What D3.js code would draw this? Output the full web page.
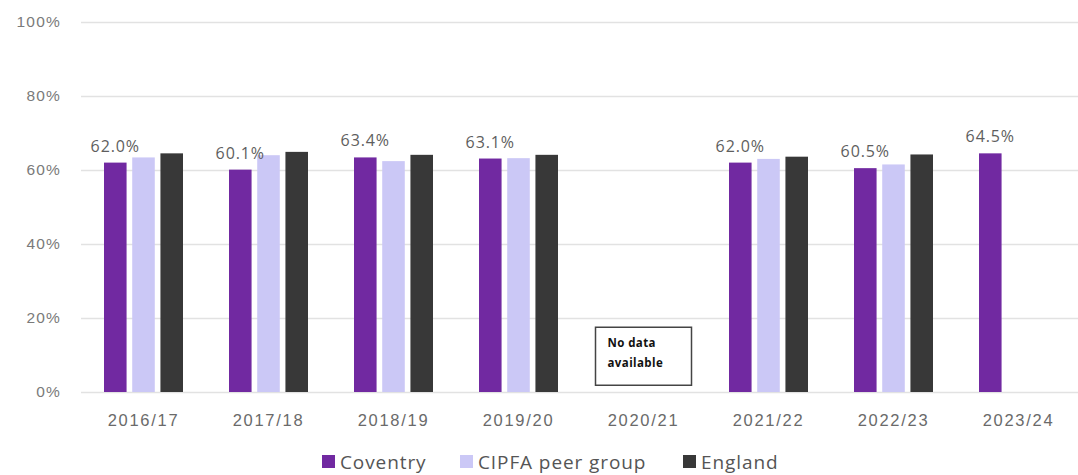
<!DOCTYPE html>
<html>
<head>
<meta charset="utf-8">
<script src="https://cdn.jsdelivr.net/npm/d3@7"></script>
<style>
  html, body { margin: 0; padding: 0; background: #ffffff; }
  svg { display: block; font-family: "Open Sans", "Noto Sans", sans-serif; }
</style>
</head>
<body>
<svg id="chart" width="1078" height="475"></svg>
<script>
// Years shown along the x axis
const years = ["2016/17", "2017/18", "2018/19", "2019/20", "2020/21", "2021/22", "2022/23", "2023/24"];

// Series names, in legend order
const seriesNames = ["Coventry", "CIPFA peer group", "England"];

// Percentages per series (null = no data for that year)
const coventry = [62.0, 60.1, 63.4, 63.1, null, 62.0, 60.5, 64.5];
const cipfaPeers = [63.4, 64.0, 62.4, 63.2, null, 63.0, 61.5, null];
const england = [64.5, 64.9, 64.1, 64.1, null, 63.6, 64.2, null];

// Y axis ticks
const yTicks = [0, 20, 40, 60, 80, 100];

// Year with no data at all
const noDataYear = "2020/21";
const noDataText = ["No data", "available"];

const seriesValues = [coventry, cipfaPeers, england];
const colors = ["#7129a1", "#cbc8f6", "#383838"];

const svg = d3.select("#chart");
const W = 1078;

const x0 = d3.scaleBand()
  .domain(years)
  .range([81, 1081])
  .paddingInner(0.368)
  .paddingOuter(0.184);

const x1 = d3.scaleBand()
  .domain(seriesNames)
  .range([0, x0.bandwidth()])
  .paddingInner(0.2);

const y = d3.scaleLinear().domain([0, 100]).range([392, 22]);

// Gridlines
const yAxis = d3.axisLeft(y)
  .tickValues(yTicks)
  .tickSize(-(W - 81))
  .tickFormat(d => d + "%");

const gy = svg.append("g")
  .attr("transform", "translate(81,0)")
  .call(yAxis);
gy.select(".domain").remove();
gy.selectAll(".tick line").attr("stroke", "#e2e2e2").attr("stroke-width", 1.3);
gy.selectAll(".tick text")
  .attr("x", -20)
  .attr("fill", "#7a7a7a")
  .style("font-size", "15.5px")
  .style("letter-spacing", "1.2px");

// Category axis labels
const gx = svg.append("g")
  .attr("transform", "translate(0,392)")
  .call(d3.axisBottom(x0).tickSize(0).tickPadding(0));
gx.select(".domain").remove();
gx.selectAll(".tick text")
  .attr("y", 28)
  .attr("dy", "0.35em")
  .attr("fill", "#6a6a6a")
  .style("font-size", "16.5px")
  .style("letter-spacing", "1.7px");

// Bars
const rows = years.map((yr, i) => ({
  year: yr,
  values: seriesNames.map((s, k) => ({ series: s, k, v: seriesValues[k][i] }))
}));

const groups = svg.append("g").selectAll("g")
  .data(rows)
  .join("g")
  .attr("transform", d => `translate(${x0(d.year)},0)`);

groups.selectAll("rect")
  .data(d => d.values.filter(v => v.v !== null))
  .join("rect")
  .attr("x", d => x1(d.series))
  .attr("width", x1.bandwidth())
  .attr("y", d => y(d.v))
  .attr("height", d => y(0) - y(d.v))
  .attr("fill", d => colors[d.k]);

// Value labels above the Coventry bars
groups.filter(d => d.values[0].v !== null)
  .append("text")
  .attr("x", x1(seriesNames[0]) + x1.bandwidth() / 2)
  .attr("y", d => y(d.values[0].v) - 11)
  .attr("text-anchor", "middle")
  .attr("fill", "#5e5e5e")
  .style("font-size", "16px")
  .style("letter-spacing", "0.9px")
  .text(d => d.values[0].v.toFixed(1) + "%");

// "No data available" note
const nx = x0(noDataYear) + x0.bandwidth() / 2;
const note = svg.append("g");
note.append("rect")
  .attr("x", nx - 48)
  .attr("y", y(17.5))
  .attr("width", 96)
  .attr("height", 58)
  .attr("fill", "#ffffff")
  .attr("stroke", "#444444")
  .attr("stroke-width", 1.5);
note.selectAll("text")
  .data(noDataText)
  .join("text")
  .attr("x", nx - 36)
  .attr("y", (d, i) => y(17.5) + 20 + i * 20)
  .attr("fill", "#111111")
  .style("font-size", "11.5px")
  .style("font-weight", "bold")
  .style("letter-spacing", "0.4px")
  .text(d => d);

// Legend
const legendX = [322, 460, 683];
const legend = svg.append("g").selectAll("g")
  .data(seriesNames)
  .join("g")
  .attr("transform", (d, i) => `translate(${legendX[i]},455)`);
legend.append("rect")
  .attr("width", 13)
  .attr("height", 13)
  .attr("fill", (d, i) => colors[i]);
legend.append("text")
  .attr("x", 18)
  .attr("y", 7)
  .attr("dy", "0.35em")
  .attr("fill", "#555555")
  .style("font-size", "19px")
  .style("letter-spacing", "0.9px")
  .text(d => d);
</script>
</body>
</html>
